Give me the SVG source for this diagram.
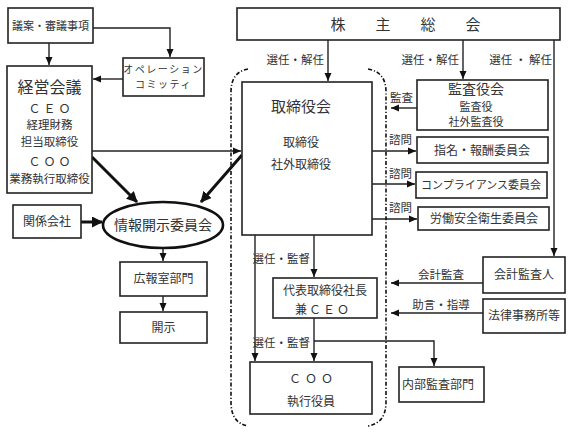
<svg xmlns="http://www.w3.org/2000/svg" width="572" height="433" viewBox="0 0 572 433">
<defs>
<style>
text{font-family:"Noto Sans CJK JP","Noto Sans",sans-serif;fill:#333;text-anchor:middle;font-size:12px}
.box{fill:#fff;stroke:#222;stroke-width:1.6}
.ln{fill:none;stroke:#222;stroke-width:1.4}
.thick{fill:none;stroke:#111;stroke-width:3}
.brk{fill:none;stroke:#111;stroke-width:1.6;stroke-dasharray:4 2 1.2 2}
.big{font-size:15px}
.sm{font-size:11px}
.lab{font-size:11.5px}
.st{text-anchor:start}
.en{text-anchor:end}
</style>
<marker id="a" markerUnits="userSpaceOnUse" markerWidth="9" markerHeight="8" refX="8" refY="4" orient="auto">
<path d="M0,0.5 L8,4 L0,7.5 z" fill="#111"/>
</marker>
<marker id="b" markerUnits="userSpaceOnUse" markerWidth="12" markerHeight="11" refX="10" refY="5.5" orient="auto">
<path d="M0,0 L11,5.5 L0,11 z" fill="#111"/>
</marker>
</defs>
<rect width="572" height="433" fill="#fff"/>

<g id="connectors">
<path class="ln" d="M49 43 V65" marker-end="url(#a)"/>
<path class="ln" d="M93 28 H170 V57" marker-end="url(#a)"/>
<path class="ln" d="M123 79 H93" marker-end="url(#a)"/>
<path class="ln" d="M92 151 H241" marker-end="url(#a)"/>
<path class="thick" d="M92 157 L137 202" marker-end="url(#b)"/>
<path class="thick" d="M242 155 L201 202" marker-end="url(#b)"/>
<path class="thick" d="M81 222 H102" marker-end="url(#b)"/>
<path class="ln" d="M163 248 V261" marker-end="url(#a)"/>
<path class="ln" d="M163 296 V311" marker-end="url(#a)"/>
<path class="ln" d="M328 40 V81" marker-end="url(#a)"/>
<path class="ln" d="M463 40 V79" marker-end="url(#a)"/>
<path class="ln" d="M554 40 V256" marker-end="url(#a)"/>
<path class="ln" d="M417 108 H391" marker-end="url(#a)"/>
<path class="ln" d="M372 151 H416" marker-end="url(#a)"/>
<path class="ln" d="M372 184 H415" marker-end="url(#a)"/>
<path class="ln" d="M372 219 H417" marker-end="url(#a)"/>
<path class="ln" d="M483 283 H391" marker-end="url(#a)"/>
<path class="ln" d="M483 313 H391" marker-end="url(#a)"/>
<path class="ln" d="M314 235 V277" marker-end="url(#a)"/>
<path class="ln" d="M255 235 V361" marker-end="url(#a)"/>
<path class="ln" d="M314 318 V361" marker-end="url(#a)"/>
<path class="ln" d="M314 341 H434 V366" marker-end="url(#a)"/>
<path class="brk" d="M248 69 Q231 72 231 92 V402 Q231 423 248 426"/>
<path class="brk" d="M368 69 Q386 72 386 92 V402 Q386 423 368 426"/>
<text class="lab en" x="324" y="64">選任・解任</text>
<text class="lab en" x="459" y="64">選任・解任</text>
<text class="lab en" x="552" y="64">選任 ・ 解任</text>
<text class="lab st" x="390" y="102">監査</text>
<text class="lab st" x="389" y="144">諮問</text>
<text class="lab st" x="389" y="178">諮問</text>
<text class="lab st" x="389" y="212">諮問</text>
<text class="lab" x="441" y="279">会計監査</text>
<text class="lab" x="441" y="309">助言・指導</text>
<text class="lab en" x="310" y="263">選任・監督</text>
<text class="lab en" x="310" y="347">選任・監督</text>
</g>

<g id="giann">
<rect class="box" x="8" y="8" width="85" height="35"/>
<text class="sm" x="50.5" y="30">議案・審議事項</text>
</g>
<g id="operation">
<rect class="box" x="123" y="58" width="81" height="38"/>
<text x="163.5" y="73" style="font-size:10px;letter-spacing:1.5px">オペレーション</text>
<text x="163.5" y="88" style="font-size:10px;letter-spacing:1.5px">コミッティ</text>
</g>
<g id="keiei">
<rect class="box" x="7" y="66" width="85" height="127"/>
<text x="49.5" y="93" style="font-size:16px">経営会議</text>
<text x="51" y="113" style="letter-spacing:3px">ＣＥＯ</text>
<text x="49.5" y="129" style="font-size:11.5px">経理財務</text>
<text x="49.5" y="146" style="font-size:11.5px">担当取締役</text>
<text x="51" y="166" style="letter-spacing:3px">ＣＯＯ</text>
<text x="49.5" y="183" style="font-size:11.5px">業務執行取締役</text>
</g>
<g id="kankei">
<rect class="box" x="13" y="205" width="68" height="33"/>
<text x="47" y="226">関係会社</text>
</g>
<g id="joho">
<ellipse cx="163" cy="225" rx="60" ry="23" fill="#fff" stroke="#111" stroke-width="2.6"/>
<text x="163" y="230" style="font-size:14px">情報開示委員会</text>
</g>
<g id="koho">
<rect class="box" x="120" y="262" width="87" height="34"/>
<text x="163.5" y="283">広報室部門</text>
</g>
<g id="kaiji">
<rect class="box" x="120" y="312" width="87" height="31"/>
<text x="163.5" y="332">開示</text>
</g>
<g id="kabunushi">
<rect class="box" x="237" y="8" width="323" height="32"/>
<text class="big" x="338 383 428 473" y="30">株主総会</text>
</g>
<g id="torishimariyakukai">
<rect class="box" x="242" y="82" width="130" height="153"/>
<text class="big" x="301" y="112">取締役会</text>
<text x="301" y="147">取締役</text>
<text x="301" y="169">社外取締役</text>
</g>
<g id="kansayakukai">
<rect class="box" x="417" y="80" width="131" height="50"/>
<text x="476" y="94" style="font-size:14px">監査役会</text>
<text class="sm" x="476" y="111">監査役</text>
<text class="sm" x="476" y="126">社外監査役</text>
</g>
<g id="shimei">
<rect class="box" x="417" y="137" width="131" height="26"/>
<text x="482" y="155">指名・報酬委員会</text>
</g>
<g id="compliance">
<rect class="box" x="416" y="172" width="131" height="26"/>
<text class="sm" x="481" y="189">コンプライアンス委員会</text>
</g>
<g id="rodo">
<rect class="box" x="418" y="207" width="131" height="23"/>
<text x="484" y="223">労働安全衛生委員会</text>
</g>
<g id="kaikei">
<rect class="box" x="483" y="257" width="82" height="36"/>
<text x="524" y="279">会計監査人</text>
</g>
<g id="horitsu">
<rect class="box" x="483" y="299" width="82" height="34"/>
<text x="524" y="320">法律事務所等</text>
</g>
<g id="daihyo">
<rect class="box" x="273" y="278" width="104" height="40"/>
<text x="325" y="295">代表取締役社長</text>
<text x="323" y="314" style="letter-spacing:2px">兼ＣＥＯ</text>
</g>
<g id="coo">
<rect class="box" x="250" y="362" width="122" height="52"/>
<text x="313" y="383" style="letter-spacing:4px">ＣＯＯ</text>
<text x="311" y="406">執行役員</text>
</g>
<g id="naibu">
<rect class="box" x="399" y="367" width="85" height="35"/>
<text x="438" y="389">内部監査部門</text>
</g>
</svg>
